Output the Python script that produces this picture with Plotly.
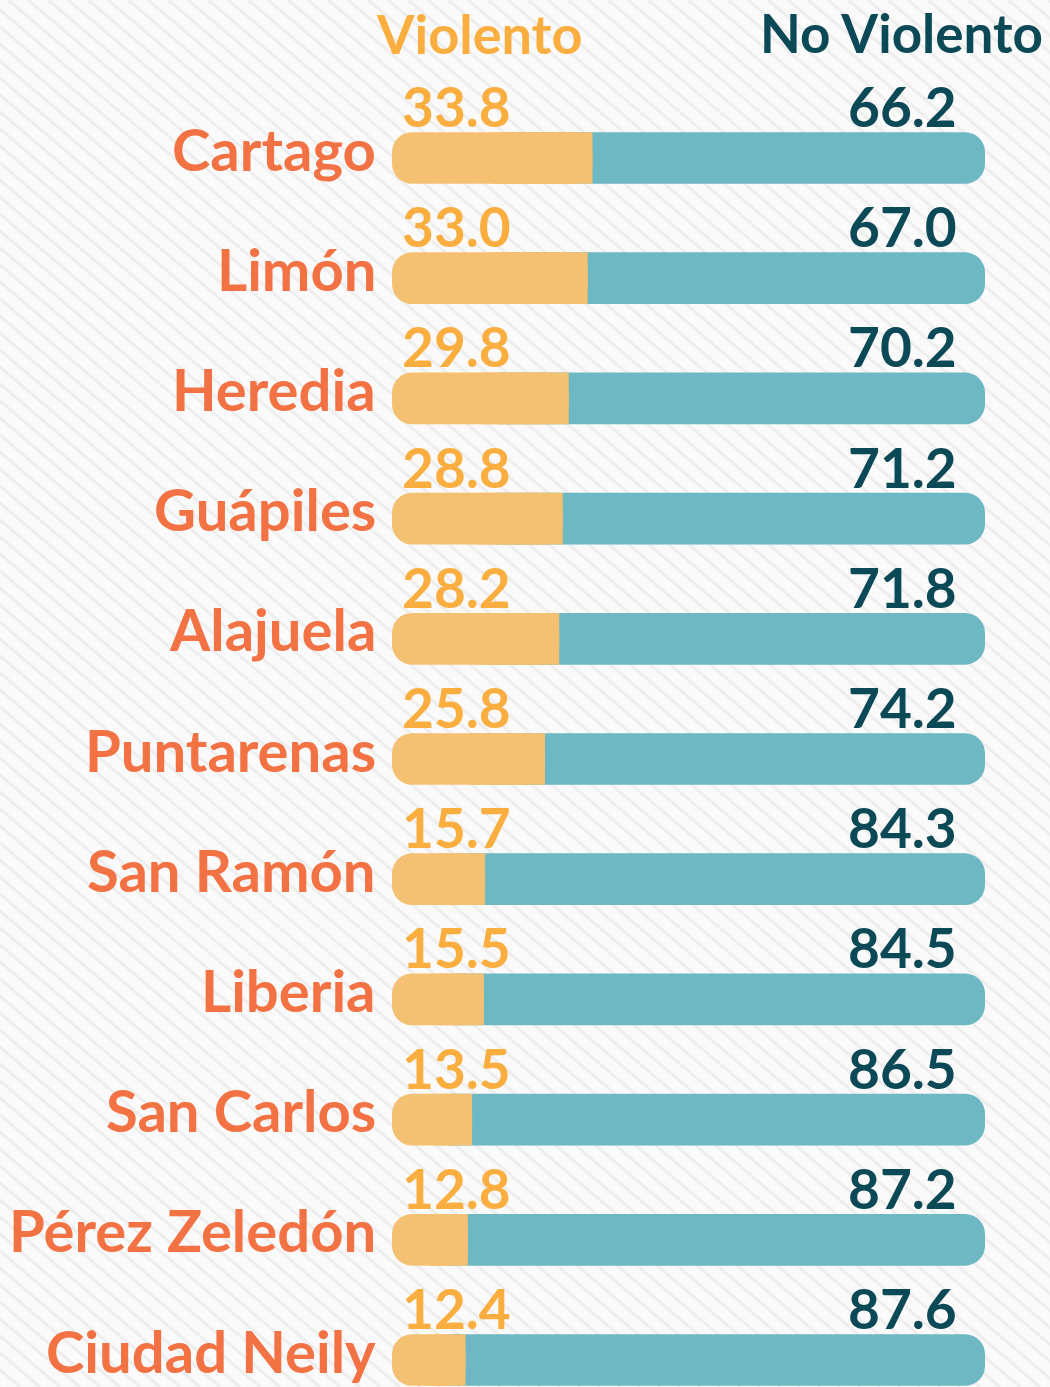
import plotly.graph_objects as go

# Data: share of violent vs. non-violent cases by city (%)
cities = ["Cartago", "Limón", "Heredia", "Guápiles", "Alajuela", "Puntarenas",
          "San Ramón", "Liberia", "San Carlos", "Pérez Zeledón", "Ciudad Neily"]
violento = [33.8, 33.0, 29.8, 28.8, 28.2, 25.8, 15.7, 15.5, 13.5, 12.8, 12.4]
no_violento = [66.2, 67.0, 70.2, 71.2, 71.8, 74.2, 84.3, 84.5, 86.5, 87.2, 87.6]

W, H = 1050, 1387
FONT = "Lato"
WEIGHT = "bold"
C_ORANGE_BAR = "#F3C171"
C_TEAL_BAR = "#6DB8C3"
C_CITY = "#F27243"
C_VAL_ORANGE = "#FBAE40"
C_DARK = "#0C4956"
BG = "#FAFAFA"
STRIPE = "#EEEEEE"

idx = list(range(len(cities)))
half_v = [v / 2 for v in violento]
BAR_W = 0.43

fig = go.Figure()

# Non-violent share, rounded on the right; its left end tucks under the orange segment
fig.add_trace(go.Bar(
    y=idx, x=[h + nv for h, nv in zip(half_v, no_violento)], base=half_v,
    orientation="h",
    marker=dict(color=C_TEAL_BAR, cornerradius=20, line=dict(width=0)),
    width=BAR_W, hoverinfo="skip", showlegend=False,
))
# Violent share from 0, rounded on the left
fig.add_trace(go.Bar(
    y=idx, x=violento, base=[0] * len(idx), orientation="h",
    marker=dict(color=C_ORANGE_BAR, cornerradius=20, line=dict(width=0)),
    width=BAR_W, hoverinfo="skip", showlegend=False,
))
# Square-off the violent segment where it meets the non-violent one
fig.add_trace(go.Bar(
    y=idx, x=half_v, base=half_v, orientation="h",
    marker=dict(color=C_ORANGE_BAR, cornerradius=0, line=dict(width=0)),
    width=BAR_W, hoverinfo="skip", showlegend=False,
))

annotations = []
for i, (c, v, nv) in enumerate(zip(cities, violento, no_violento)):
    annotations.append(dict(
        x=0, y=i, xref="x", yref="y", text=c, showarrow=False,
        xanchor="right", yanchor="middle", xshift=-14, yshift=10,
        font=dict(family=FONT, size=58, color=C_CITY, weight=WEIGHT),
    ))
    annotations.append(dict(
        x=0, y=i, xref="x", yref="y", text=f"{v:.1f}", showarrow=False,
        xanchor="left", yanchor="bottom", xshift=8, yshift=17,
        font=dict(family=FONT, size=55, color=C_VAL_ORANGE, weight=WEIGHT),
    ))
    annotations.append(dict(
        x=100, y=i, xref="x", yref="y", text=f"{nv:.1f}", showarrow=False,
        xanchor="right", yanchor="bottom", xshift=-26, yshift=17,
        font=dict(family=FONT, size=55, color=C_DARK, weight=WEIGHT),
    ))

# Column headers, anchored to the top edge of the page
annotations.append(dict(
    x=479 / W, y=1, xref="paper", yref="paper", text="Violento",
    showarrow=False, xanchor="center", yanchor="top", borderpad=0,
    font=dict(family=FONT, size=54, color=C_VAL_ORANGE, weight=WEIGHT),
))
annotations.append(dict(
    x=1044 / W, y=1, xref="paper", yref="paper", text="No Violento",
    showarrow=False, xanchor="right", yanchor="top", borderpad=0,
    font=dict(family=FONT, size=53, color=C_DARK, weight=WEIGHT),
))

# Diagonal pinstripe background
shapes = []
slope = 0.85
step = 20
run = H / slope
x0 = -run
while x0 < W:
    shapes.append(dict(
        type="line", xref="paper", yref="paper", layer="below",
        x0=x0 / W, y0=1, x1=(x0 + run) / W, y1=0,
        line=dict(color=STRIPE, width=3),
    ))
    x0 += step

# Axis ranges: 0..100 maps onto the bar track, rows evenly spaced
px_per_unit_x = (985 - 392) / 100
px_per_row = (1360 - 158) / 10
x_range = [-392 / px_per_unit_x, 100 + (W - 985) / px_per_unit_x]
y_range = [10 + (H - 1360) / px_per_row, -158 / px_per_row]

fig.update_layout(
    width=W, height=H,
    margin=dict(l=0, r=0, t=0, b=0),
    paper_bgcolor=BG, plot_bgcolor="rgba(0,0,0,0)",
    barmode="overlay",
    xaxis=dict(range=x_range, visible=False, fixedrange=True),
    yaxis=dict(range=y_range, visible=False, fixedrange=True),
    annotations=annotations,
    shapes=shapes,
)

fig.write_html("out.html", config={"displayModeBar": False})
